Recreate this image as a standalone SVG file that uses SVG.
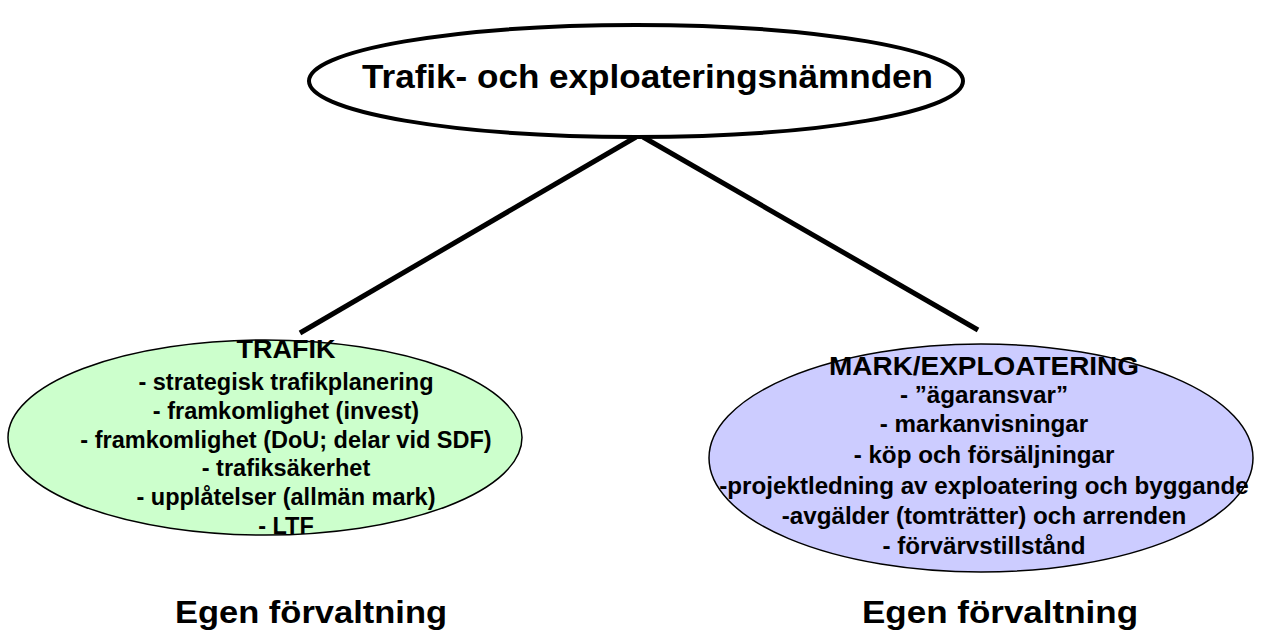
<svg xmlns="http://www.w3.org/2000/svg" width="1264" height="631" viewBox="0 0 1264 631">
  <style>
    text { font-family: "Liberation Sans", Arial, sans-serif; font-weight: bold; fill: #000; text-anchor: middle; }
    .title { font-size: 34px; }
    .head { font-size: 25px; }
    .green { font-size: 23.5px; }
    .blue { font-size: 24.2px; }
    .foot { font-size: 32px; }
    .edge { stroke: #000; stroke-width: 5; fill: none; }
  </style>
  <rect width="1264" height="631" fill="#fff"/>
  <g id="connectors">
    <line class="edge" x1="636" y1="137" x2="300" y2="333"/>
    <line class="edge" x1="643" y1="137" x2="978" y2="330"/>
  </g>
  <g id="board">
    <ellipse cx="636" cy="81" rx="327" ry="56" fill="#fff" stroke="#000" stroke-width="4"/>
    <text class="title" x="647.5" y="88" textLength="571" lengthAdjust="spacingAndGlyphs">Trafik- och exploateringsnämnden</text>
  </g>
  <g id="trafik">
    <ellipse cx="265" cy="437.5" rx="257" ry="97.5" fill="#ccffcc" stroke="#000" stroke-width="1.5"/>
    <text class="head" x="286" y="358" textLength="99" lengthAdjust="spacingAndGlyphs">TRAFIK</text>
    <text class="green" x="286" y="390">- strategisk trafikplanering</text>
    <text class="green" x="286" y="419">- framkomlighet (invest)</text>
    <text class="green" x="286" y="448">- framkomlighet (DoU; delar vid SDF)</text>
    <text class="green" x="286" y="476">- trafiksäkerhet</text>
    <text class="green" x="286" y="505">- upplåtelser (allmän mark)</text>
    <text class="green" x="286" y="534">- LTF</text>
  </g>
  <g id="mark">
    <ellipse cx="981" cy="458" rx="272" ry="114" fill="#ccccff" stroke="#000" stroke-width="1.5"/>
    <text class="head" x="984" y="375" textLength="310" lengthAdjust="spacingAndGlyphs">MARK/EXPLOATERING</text>
    <text class="blue" x="984" y="403">- ”ägaransvar”</text>
    <text class="blue" x="984" y="432">- markanvisningar</text>
    <text class="blue" x="984" y="463">- köp och försäljningar</text>
    <text class="blue" x="984" y="494">-projektledning av exploatering och byggande</text>
    <text class="blue" x="984" y="524">-avgälder (tomträtter) och arrenden</text>
    <text class="blue" x="984" y="554">- förvärvstillstånd</text>
  </g>
  <g id="labels">
    <text class="foot" x="311" y="623" textLength="272" lengthAdjust="spacingAndGlyphs">Egen förvaltning</text>
    <text class="foot" x="1000" y="623" textLength="276" lengthAdjust="spacingAndGlyphs">Egen förvaltning</text>
  </g>
</svg>
